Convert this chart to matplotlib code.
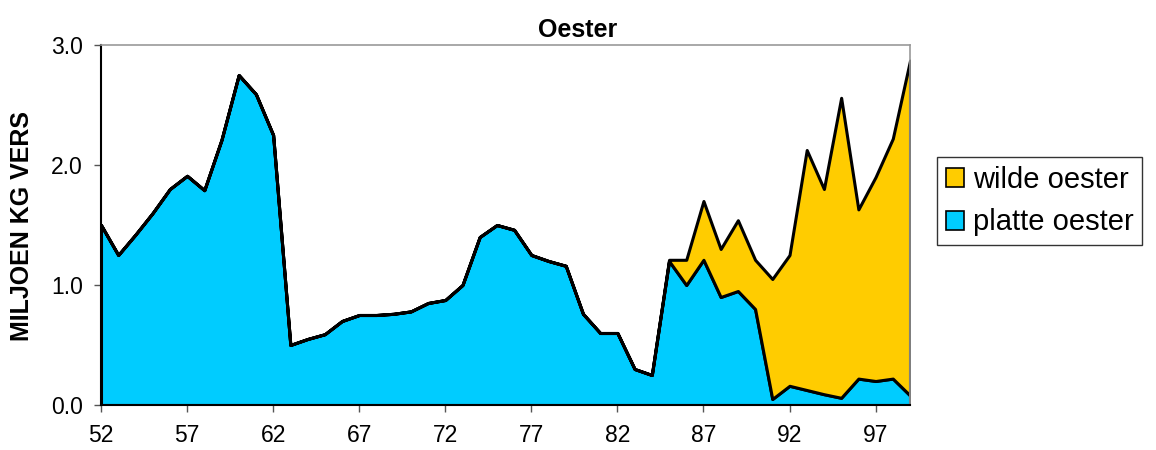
import matplotlib
matplotlib.use("Agg")
import matplotlib.pyplot as plt
from matplotlib.patches import Patch

plt.rcParams['font.family'] = ['Liberation Sans', 'DejaVu Sans']

years = list(range(52, 100))
platte = [1.50, 1.25, 1.42, 1.60, 1.80, 1.91, 1.79, 2.21, 2.75, 2.59,
          2.25, 0.50, 0.55, 0.59, 0.70, 0.75, 0.75, 0.76, 0.78, 0.85,
          0.875, 1.00, 1.40, 1.50, 1.46, 1.25, 1.20, 1.16, 0.76, 0.60,
          0.60, 0.30, 0.25, 1.20, 1.00, 1.21, 0.90, 0.95, 0.80, 0.05,
          0.16, 0.125, 0.09, 0.06, 0.22, 0.20, 0.22, 0.08]
wilde = [0.0] * 33 + [0.01, 0.21, 0.49, 0.40, 0.59, 0.41, 1.00,
                      1.09, 2.00, 1.71, 2.50, 1.41, 1.70, 2.00, 2.79]
x_ticks = [52, 57, 62, 67, 72, 77, 82, 87, 92, 97]
y_ticks = [0.0, 1.0, 2.0, 3.0]
labels = ['platte oester', 'wilde oester']
colors = ['#00CCFF', '#FFCC00']

fig = plt.figure(figsize=(11.56, 4.5), dpi=100)
ax = fig.add_axes([101/1156, 45/450, (910-101)/1156, 360/450])

ax.stackplot(years, platte, wilde, colors=colors, edgecolor='black', linewidth=2.2)

ax.set_xlim(52, 99)
ax.set_ylim(0, 3.0)
ax.set_xticks(x_ticks)
ax.set_xticklabels([str(t) for t in x_ticks], fontsize=16.5)
ax.set_yticks(y_ticks)
ax.set_yticklabels([f'{t:.1f}' for t in y_ticks], fontsize=16.5)
ax.tick_params(axis='both', direction='out', length=5, width=1, color='#555555')
ax.tick_params(axis='x', pad=9)
ax.tick_params(axis='y', pad=8)

for s in ['top', 'right']:
    ax.spines[s].set_color('#999999')
    ax.spines[s].set_linewidth(1.2)
for s in ['left', 'bottom']:
    ax.spines[s].set_color('black')
    ax.spines[s].set_linewidth(1.5)

fig.text(0.5, 1 - 37/450, 'Oester', fontsize=18, fontweight='bold', ha='center', va='baseline')
fig.text(22/1156, 1 - 226/450, 'MILJOEN KG VERS', fontsize=18, fontweight='bold',
         rotation=90, ha='center', va='center')

handles = [Patch(facecolor=colors[1], edgecolor='black', linewidth=1.2),
           Patch(facecolor=colors[0], edgecolor='black', linewidth=1.2)]
leg = fig.legend(handles, ['wilde oester', 'platte oester'],
                 loc='upper left', bbox_to_anchor=(937/1156, 1 - 157/450),
                 fontsize=21, frameon=True, fancybox=False, edgecolor='black',
                 handlelength=0.62, handleheight=0.62, handletextpad=0.3,
                 labelspacing=0.5, borderpad=0.3, borderaxespad=0)
leg.get_frame().set_linewidth(1.0)

fig.savefig('out.png', dpi=100)
